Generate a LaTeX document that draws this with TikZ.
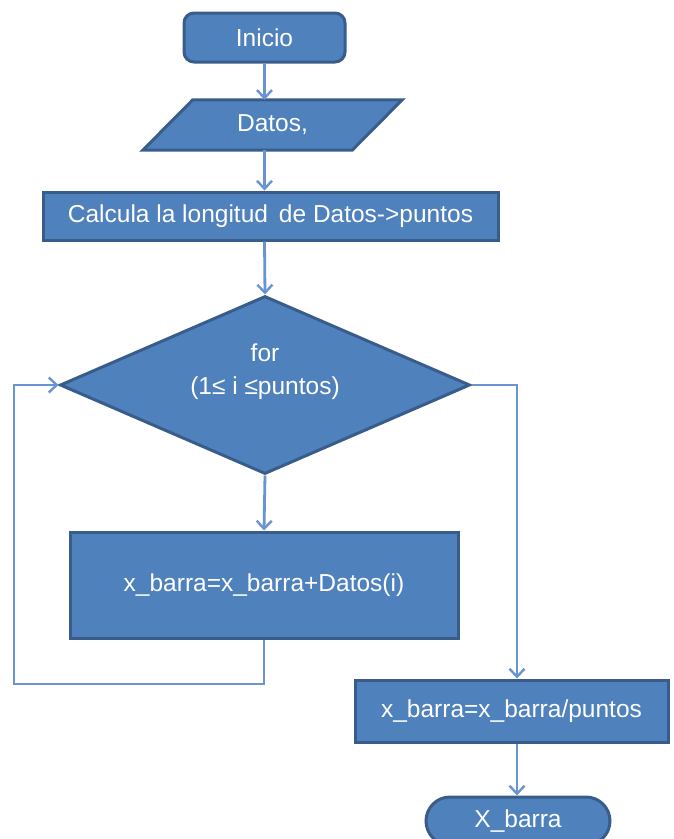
\documentclass[tikz,border=0pt]{standalone}
\usepackage{fontspec}
\setmainfont{Liberation Sans}
\usetikzlibrary{arrows.meta,shapes.geometric,shapes.misc,calc}
\definecolor{boxfill}{RGB}{79,129,189}
\definecolor{boxline}{RGB}{56,93,138}
\definecolor{linkcol}{RGB}{104,148,210}
\begin{document}
\begin{tikzpicture}[x=1pt,y=-1pt,
  every node/.style={font=\fontsize{24.5}{29}\selectfont, text=white},
  shapebase/.style={draw=boxline, fill=boxfill, line width=3pt, inner sep=0pt, align=center},
  procbox/.style={shapebase, rectangle},
  termbox/.style={shapebase, rectangle, rounded corners=10pt},
  endbox/.style={shapebase, rounded rectangle},
  decbox/.style={shapebase, diamond, aspect=2.3},
  conn/.style={draw=linkcol, line width=2.8pt, -{Straight Barb[length=8pt,width=15pt,line width=2.4pt]}}]
\useasboundingbox (0,0) rectangle (674,839);

% Input block: slanted outline drawn around a text node
\node[inner sep=0pt, minimum width=209pt, minimum height=50pt] (datos) at (272.5,125) {};
\draw[draw=boxline, fill=boxfill, line width=3pt, line join=miter]
  ($(datos.north west)+(25,0)$) -- ($(datos.north east)+(25,0)$)
  -- ($(datos.south east)+(-25,0)$) -- ($(datos.south west)+(-25,0)$) -- cycle;
\node at (datos) {Datos,};

% Blocks
\node[termbox, minimum width=161pt, minimum height=49pt] (inicio) at (264.5,37.5) {Inicio};
\node[procbox, minimum width=455pt, minimum height=48pt] (calc) at (270.5,216) {Calcula la longitud\, de Datos->puntos};
\node[decbox, minimum width=410pt, minimum height=178pt] (loop) at (265,385) {};
\node[align=center] (looptext) at ($(loop.center)+(0,-13)$) {for\\[4pt](1≤ i ≤puntos)};
\node[procbox, minimum width=388pt, minimum height=106pt] (acum) at (264,585) {x\_barra=x\_barra+Datos(i)};
\node[procbox, minimum width=313pt, minimum height=62pt] (media) at (511.5,711) {x\_barra=x\_barra/puntos};
\node[endbox, minimum width=184pt, minimum height=48pt] (fin) at (518,821) {X\_barra};

% Guide points for the routed connectors
\coordinate (rc) at (517,0);
\coordinate (lc) at (14,684);

% Connectors
\draw[conn] (inicio.south) -- (inicio.south |- datos.north);
\draw[conn] (inicio.south |- datos.south) -- (inicio.south |- calc.north);
\draw[conn] (inicio.south |- calc.south) -- (loop.north);
\draw[conn] (loop.south) -- (acum.north);
\draw[conn] (loop.east) -| (rc |- media.north);
\draw[conn] (rc |- media.south) -- (rc |- fin.north);
\draw[conn] (acum.south) |- (lc) |- (loop.west);
\end{tikzpicture}
\end{document}
